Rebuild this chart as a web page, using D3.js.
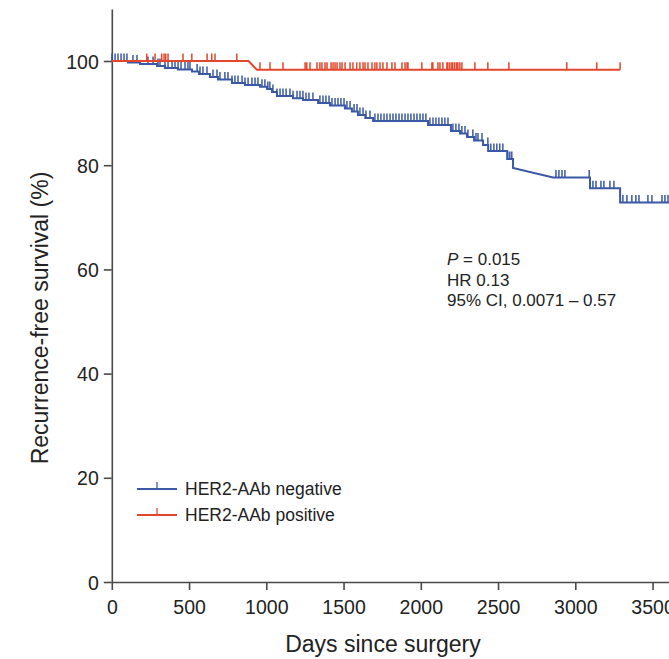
<!DOCTYPE html>
<html>
<head>
<meta charset="utf-8">
<script src="https://cdn.jsdelivr.net/npm/d3@7/dist/d3.min.js"></script>
<style>
  html, body { margin: 0; padding: 0; background: #fff; }
  svg { display: block; }
  text { font-family: "Liberation Sans", Arial, Helvetica, sans-serif; fill: #222; }
</style>
</head>
<body>
<svg id="chart" width="669" height="659"></svg>
<script>
// ---------- DATA ----------
const xTicks = [0, 500, 1000, 1500, 2000, 2500, 3000, 3500, 4000];
const yTicks = [0, 20, 40, 60, 80, 100];

const seriesNames = ["HER2-AAb negative", "HER2-AAb positive"];

// Kaplan-Meier steps: [day, survival % after the event]
const blueSteps = [
  [0, 100], [105, 99.71], [183, 99.42], [293, 99.04], [344, 98.66], [428, 98.37],
  [519, 97.98], [564, 97.5], [635, 96.93], [687, 96.45], [778, 95.78], [862, 95.39],
  [959, 95.07], [1005, 94.63], [1037, 94.05], [1069, 93.28], [1173, 92.84],
  [1238, 92.51], [1335, 91.94], [1412, 91.46], [1509, 90.88], [1554, 90.31],
  [1593, 89.64], [1641, 89.06], [1691, 88.48], [2047, 87.72], [2195, 86.56],
  [2254, 86.08], [2299, 85.41], [2345, 84.74], [2403, 83.88], [2436, 82.73],
  [2559, 81.19], [2597, 79.46], [2856, 77.64], [3095, 75.57], [3290, 72.84]
];
const blueRampDays = [2856];
const blueEndDay = 3700;

const redSteps = [[0, 100], [885, 100], [940, 98.3]];
const redRampDays = [940];
const redEndDay = 3290;

// censored observations (days)
const blueCensor = [
  1, 21, 40, 60, 79, 98, 137, 163, 234, 267, 299, 312, 344, 364, 390, 409, 429, 448,
  474, 493, 506, 552, 571, 590, 616, 655, 681, 700, 732, 752, 778, 797, 817, 843,
  862, 882, 907, 927, 946, 972, 991, 1010, 1023, 1043, 1069, 1089, 1108, 1128, 1153,
  1173, 1199, 1218, 1237, 1257, 1276, 1302, 1347, 1367, 1386, 1406, 1425, 1445, 1464,
  1483, 1503, 1522, 1542, 1568, 1587, 1606, 1626, 1645, 1671, 1703, 1723, 1742, 1762,
  1781, 1801, 1820, 1839, 1859, 1878, 1898, 1917, 1936, 1956, 1975, 1995, 2014, 2033,
  2059, 2079, 2098, 2117, 2137, 2156, 2176, 2208, 2227, 2247, 2266, 2286, 2305, 2337,
  2357, 2370, 2396, 2434, 2453, 2473, 2492, 2511, 2531, 2563, 2576, 2589, 2875, 2894,
  2914, 2933, 3090, 3114, 3134, 3166, 3185, 3224, 3250, 3308, 3334, 3366, 3392, 3412,
  3470, 3496, 3561, 3580, 3600
];
const redCensor = [
  226, 280, 323, 338, 349, 364, 461, 518, 617, 647, 668, 809,
  959, 1024, 1108, 1251, 1262, 1283, 1328, 1347, 1360, 1380, 1393, 1419, 1432, 1445,
  1458, 1477, 1490, 1510, 1542, 1561, 1585, 1606, 1626, 1639, 1658, 1684, 1703, 1716,
  1736, 1755, 1781, 1813, 1833, 1878, 1898, 1911, 1917, 2007, 2072, 2078, 2111, 2124,
  2143, 2169, 2175, 2188, 2201, 2207, 2220, 2233, 2240, 2253, 2266, 2350, 2434, 2570,
  2945, 3139, 3290
];

const statsLines = ["= 0.015", "HR 0.13", "95% CI, 0.0071 \u2013 0.57"];

// ---------- CHART ----------
const blue = "#3a58a6";
const red = "#e2462b";
const axisColor = "#4a4a4a";

const svg = d3.select("#chart");

const x = d3.scaleLinear().domain([0, 4000]).range([111.8, 111.8 + 4000 * 0.1545]);
const y = d3.scaleLinear().domain([0, 110]).range([582, 582 - 110 * 5.21]);

// axes
const xAxis = d3.axisBottom(x).tickValues(xTicks).tickFormat(d3.format("d"))
  .tickSize(8).tickPadding(10).tickSizeOuter(0);
const yAxis = d3.axisLeft(y).tickValues(yTicks).tickFormat(d3.format("d"))
  .tickSize(8).tickPadding(5).tickSizeOuter(0);

const gx = svg.append("g").attr("transform", `translate(0,${y(0)})`).call(xAxis);
const gy = svg.append("g").attr("transform", `translate(${x(0)},0)`).call(yAxis);

[gx, gy].forEach(g => {
  g.select(".domain").attr("stroke", axisColor).attr("stroke-width", 1.6);
  g.selectAll(".tick line").attr("stroke", axisColor).attr("stroke-width", 1.6);
  g.selectAll(".tick text").attr("fill", "#222").style("font-size", "19.5px")
    .style("font-family", "'Liberation Sans', Arial, Helvetica, sans-serif");
});
gy.selectAll(".tick text").attr("dy", "0.36em");

// axis titles
svg.append("text")
  .attr("x", 383).attr("y", 652)
  .attr("text-anchor", "middle")
  .style("font-size", "23px")
  .text("Days since surgery");

svg.append("text")
  .attr("transform", `translate(48,${318}) rotate(-90)`)
  .attr("text-anchor", "middle")
  .style("font-size", "23px")
  .text("Recurrence-free survival (%)");

// build step path vertices
function buildVertices(steps, rampDays, endDay) {
  const v = [[steps[0][0], steps[0][1]]];
  for (let i = 1; i < steps.length; i++) {
    const [d, p] = steps[i];
    const prev = v[v.length - 1][1];
    if (rampDays.includes(d)) {
      v.push([d, p]);
    } else {
      v.push([d, prev]);
      v.push([d, p]);
    }
  }
  v.push([endDay, v[v.length - 1][1]]);
  return v;
}

function valueAt(v, d) {
  let i = 0;
  for (let k = 0; k < v.length; k++) if (v[k][0] <= d) i = k;
  if (i < v.length - 1 && v[i + 1][0] > d && v[i + 1][1] !== v[i][1]) {
    const t = (d - v[i][0]) / (v[i + 1][0] - v[i][0]);
    return v[i][1] + t * (v[i + 1][1] - v[i][1]);
  }
  return v[i][1];
}

const line = d3.line().x(d => x(d[0])).y(d => y(d[1])).curve(d3.curveLinear);

function drawSeries(steps, rampDays, endDay, censor, color) {
  const v = buildVertices(steps, rampDays, endDay);
  const g = svg.append("g");
  g.append("path").attr("d", line(v))
    .attr("fill", "none").attr("stroke", color).attr("stroke-width", 2)
    .attr("stroke-linejoin", "miter");
  g.selectAll("line.cens").data(censor).enter().append("line")
    .attr("class", "cens")
    .attr("x1", d => x(d)).attr("x2", d => x(d))
    .attr("y1", d => y(valueAt(v, d)))
    .attr("y2", d => y(valueAt(v, d)) - 7.5)
    .attr("stroke", color).attr("stroke-width", 1.5);
}

drawSeries(blueSteps, blueRampDays, blueEndDay, blueCensor, blue);
drawSeries(redSteps, redRampDays, redEndDay, redCensor, red);

// legend
const legendColors = [blue, red];
const legend = svg.append("g");
seriesNames.forEach((name, i) => {
  const ly = 489 + i * 26;
  legend.append("line").attr("x1", 137).attr("x2", 177).attr("y1", ly).attr("y2", ly)
    .attr("stroke", legendColors[i]).attr("stroke-width", 2);
  legend.append("line").attr("x1", 157).attr("x2", 157).attr("y1", ly).attr("y2", ly - 7)
    .attr("stroke", legendColors[i]).attr("stroke-width", 1.3);
  legend.append("text").attr("x", 185).attr("y", ly + 6)
    .style("font-size", "17.5px").text(name);
});

// statistics annotation
const st = svg.append("g");
statsLines.forEach((s, i) => {
  const t = st.append("text").attr("x", 447).attr("y", 265 + i * 20.5).style("font-size", "17px");
  if (i === 0) {
    t.append("tspan").style("font-style", "italic").text("P");
    t.append("tspan").text(" " + s);
  } else {
    t.text(s);
  }
});
</script>
</body>
</html>
